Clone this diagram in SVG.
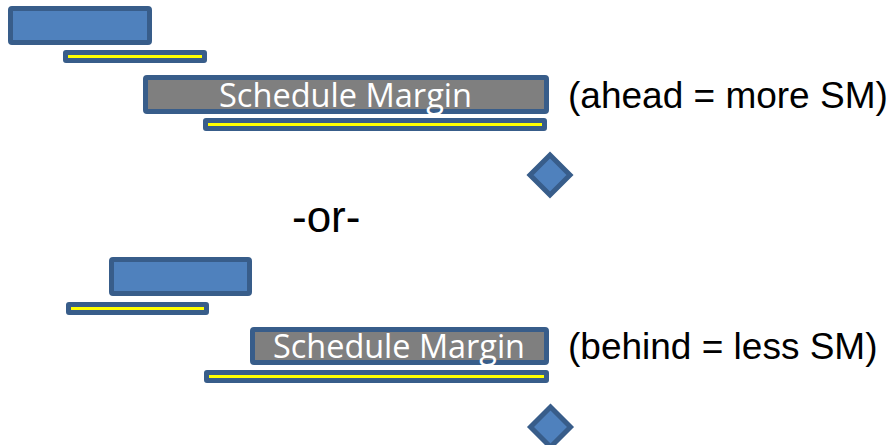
<svg xmlns="http://www.w3.org/2000/svg" width="892" height="445" viewBox="0 0 892 445">
<style>
.task{fill:#4f81bd;stroke:#385d8a;stroke-width:5;}
.thin{fill:#385d8a;stroke:#385d8a;stroke-width:3;}
.yl{stroke:#ffff00;stroke-width:3;fill:none;}
.sm{fill:#7f7f7f;stroke:#385d8a;stroke-width:5;}
.smt{font-family:"Open Sans","DejaVu Sans",sans-serif;font-size:33px;fill:#ffffff;}
.lbl{font-family:"Liberation Sans",Arial,sans-serif;font-size:37px;fill:#000000;}
.ms{fill:#4f81bd;stroke:#385d8a;stroke-width:5;stroke-linejoin:miter;}
</style>
<rect width="892" height="445" fill="#ffffff"/>
<g id="task1"><rect class="task" x="10.5" y="8.5" width="139" height="34" rx="1.5"/></g>
<g id="bar1"><rect class="thin" x="64.5" y="51.5" width="141" height="10" rx="1.5"/><line class="yl" x1="68" y1="56.5" x2="202" y2="56.5"/></g>
<g id="sm1"><rect class="sm" x="145.5" y="77.5" width="401" height="34" rx="1.5"/><text class="smt" x="219" y="107" textLength="253" lengthAdjust="spacingAndGlyphs">Schedule Margin</text></g>
<g id="bar2"><rect class="thin" x="204.5" y="119.5" width="341" height="10" rx="1.5"/><line class="yl" x1="208" y1="124.5" x2="542" y2="124.5"/></g>
<g id="ms1"><path class="ms" d="M550,155 L570,175 L550,195 L530,175 Z"/></g>
<g id="lbl1"><text class="lbl" x="568" y="108">(ahead = more SM)</text></g>
<g id="or"><text class="lbl" x="292" y="232" style="font-size:44px">-or-</text></g>
<g id="task2"><rect class="task" x="111.5" y="259.5" width="138" height="34" rx="1.5"/></g>
<g id="bar3"><rect class="thin" x="67.5" y="303.5" width="140" height="10" rx="1.5"/><line class="yl" x1="71" y1="308.5" x2="204" y2="308.5"/></g>
<g id="sm2"><rect class="sm" x="252.5" y="329.5" width="294" height="33" rx="1.5"/><text class="smt" x="273" y="358" textLength="252" lengthAdjust="spacingAndGlyphs">Schedule Margin</text></g>
<g id="bar4"><rect class="thin" x="205.5" y="371.5" width="342" height="10" rx="1.5"/><line class="yl" x1="209" y1="376.5" x2="544" y2="376.5"/></g>
<g id="ms2"><path class="ms" d="M550.5,407 L570.5,427 L550.5,447 L530.5,427 Z"/></g>
<g id="lbl2"><text class="lbl" x="568" y="359">(behind = less SM)</text></g>
<g id="connectors"></g>
</svg>
